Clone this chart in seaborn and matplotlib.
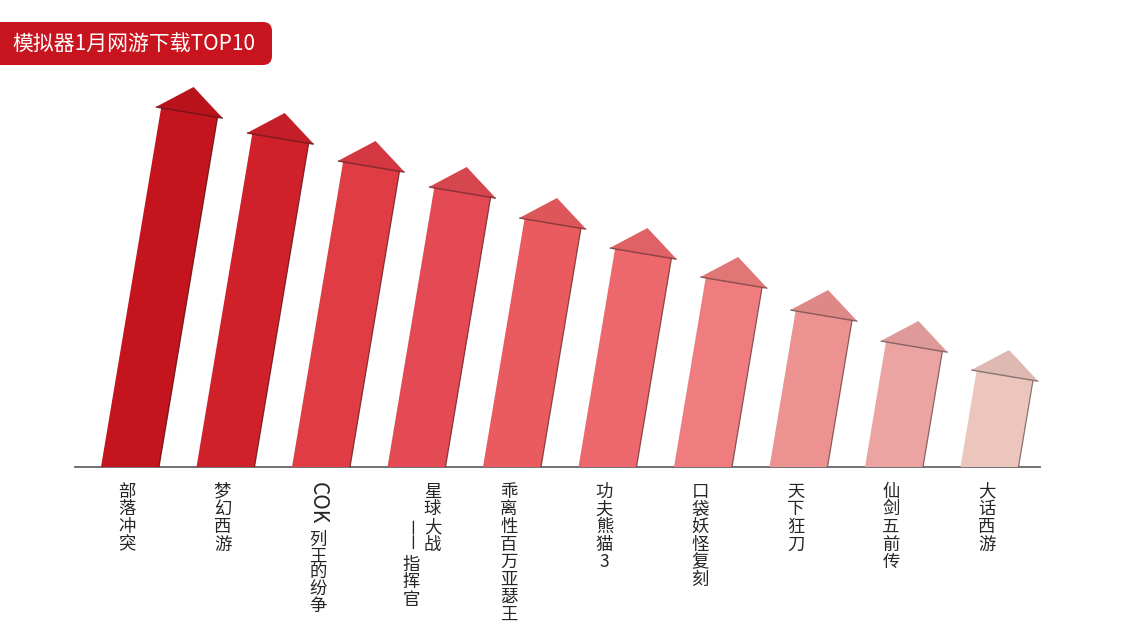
import numpy as np
import matplotlib
matplotlib.use("Agg")
import matplotlib.pyplot as plt
import seaborn as sns
import pandas as pd
from matplotlib.patches import Polygon, FancyBboxPatch
from matplotlib.colors import to_rgb

# ---------------- data ----------------
title = "模拟器1月网游下载TOP10"
games = ["部落冲突", "梦幻西游", "COK列王的纷争", "星球大战——指挥官", "乖离性百万亚瑟王",
         "功夫熊猫3", "口袋妖怪复刻", "天下狂刀", "仙剑五前传", "大话西游"]
downloads = [380, 354, 326, 300, 269, 239, 210, 177, 146, 117]
colors = ["#c4141d", "#d0212b", "#e03c44", "#e44a53", "#ea5b60",
          "#ec686c", "#ef7d7f", "#ec9291", "#eba4a2", "#ecc5bd"]

# ---------------- style ----------------
sns.set_theme(style="white")
plt.rcParams['font.family'] = ['Noto Sans CJK SC', 'DejaVu Sans']

W, H = 1123, 637
fig = plt.figure(figsize=(W / 100, H / 100), dpi=100)
fig.patch.set_facecolor("white")

base_y = 467            # baseline pixel (from top)
top_y = 60
ax = fig.add_axes([75 / W, (H - base_y) / H, 965 / W, (base_y - top_y) / H])

df = pd.DataFrame({"game": games, "downloads": downloads})
sns.barplot(data=df, x="game", y="downloads", ax=ax, width=0.6,
            color="white", saturation=1)

pitch = 95.5
first = 130
ax.set_xlim(-(first - 75) / pitch, (1040 - first) / pitch)
ax.set_ylim(0, base_y - top_y)
ax.set_facecolor("none")
for s in ax.spines.values():
    s.set_visible(False)
ax.spines["bottom"].set_visible(True)
ax.spines["bottom"].set_color("#666666")
ax.spines["bottom"].set_linewidth(1.3)
ax.set_xticks([])
ax.set_yticks([])
ax.set_xlabel("")
ax.set_ylabel("")

# ---------------- arrows from bar geometry ----------------
theta = np.deg2rad(9.5)
d = np.array([np.sin(theta), np.cos(theta)])
n = np.array([np.cos(theta), -np.sin(theta)])
hw_body = 28.6
hw_head = 34.0
head_len = 26.0

fig.canvas.draw()
tr = ax.transData
inv = tr.inverted()

bars = list(ax.patches)
centers = []
for i, p in enumerate(bars):
    cx = p.get_x() + p.get_width() / 2
    h = p.get_height()
    centers.append(cx)
    p.set_visible(False)
    p0 = tr.transform((cx, 0))
    pt = tr.transform((cx, h))
    L = (pt[1] - p0[1]) / np.cos(theta)
    hb = p0 + (L - head_len) * d
    tip = p0 + L * d
    bl = p0 - np.array([hw_body / np.cos(theta), 0])
    br = p0 + np.array([hw_body / np.cos(theta), 0])
    btl = hb - hw_body * n
    btr = hb + hw_body * n
    hl = hb - hw_head * n
    hr = hb + hw_head * n

    col = np.array(to_rgb(colors[i]))
    head_col = np.clip(col * 0.94, 0, 1)
    dark = np.clip(col * 0.45, 0, 1)

    body = inv.transform(np.array([bl, btl, btr, br]))
    head = inv.transform(np.array([hl, tip, hr]))
    ax.add_patch(Polygon(body, closed=True, facecolor=col, edgecolor="none",
                         clip_on=False, zorder=3))
    ax.add_patch(Polygon(head, closed=True, facecolor=head_col, edgecolor="none",
                         clip_on=False, zorder=4))
    re = inv.transform(np.array([br, btr]))
    ax.plot(re[:, 0], re[:, 1], color=dark, lw=0.9, alpha=0.8, zorder=5,
            clip_on=False, solid_capstyle="butt")
    hbl = inv.transform(np.array([hl, hr]))
    ax.plot(hbl[:, 0], hbl[:, 1], color=dark, lw=1.0, alpha=0.75, zorder=5,
            clip_on=False, solid_capstyle="butt")

# ---------------- vertical labels ----------------
fs = 12.5
txt_col = "#262626"


def px_to_y(py):
    return -(py - base_y)


def px_dx(dx):
    return dx / pitch


def column(x, chars, start_py, cp=17.6):
    for k, ch in enumerate(chars):
        cy = start_py + cp * k + cp / 2
        ax.text(x, px_to_y(cy), ch, ha="center", va="center", fontsize=fs,
                color=txt_col, clip_on=False)


for i, g in enumerate(games):
    x = centers[i] + px_dx(-3)
    if g.startswith("COK"):
        ax.text(x, px_to_y(482), "COK", rotation=-90, ha="center", va="top",
                fontsize=15, color=txt_col, clip_on=False)
        column(x, list(g[3:]), 532, cp=16.5)
    elif "——" in g:
        a, b = g.split("——")
        column(centers[i] + px_dx(16), list(a), 483)
        x2 = centers[i] + px_dx(-5)
        ax.text(x2, px_to_y(519), "——", rotation=-90, ha="center", va="top",
                fontsize=fs, color=txt_col, clip_on=False)
        column(x2, list(b), 556)
    else:
        column(x, list(g), 483)

# ---------------- title box ----------------
box = FancyBboxPatch((-20, H - 65), 20 + 272, 43,
                     boxstyle="round,pad=0,rounding_size=9",
                     transform=None, facecolor="#c8141e", edgecolor="none")
fig.patches.append(box)
fig.text(12 / W, 1 - 44 / H, title, color="white", fontsize=15,
         ha="left", va="center")

fig.savefig("out.png", dpi=100, facecolor="white")
